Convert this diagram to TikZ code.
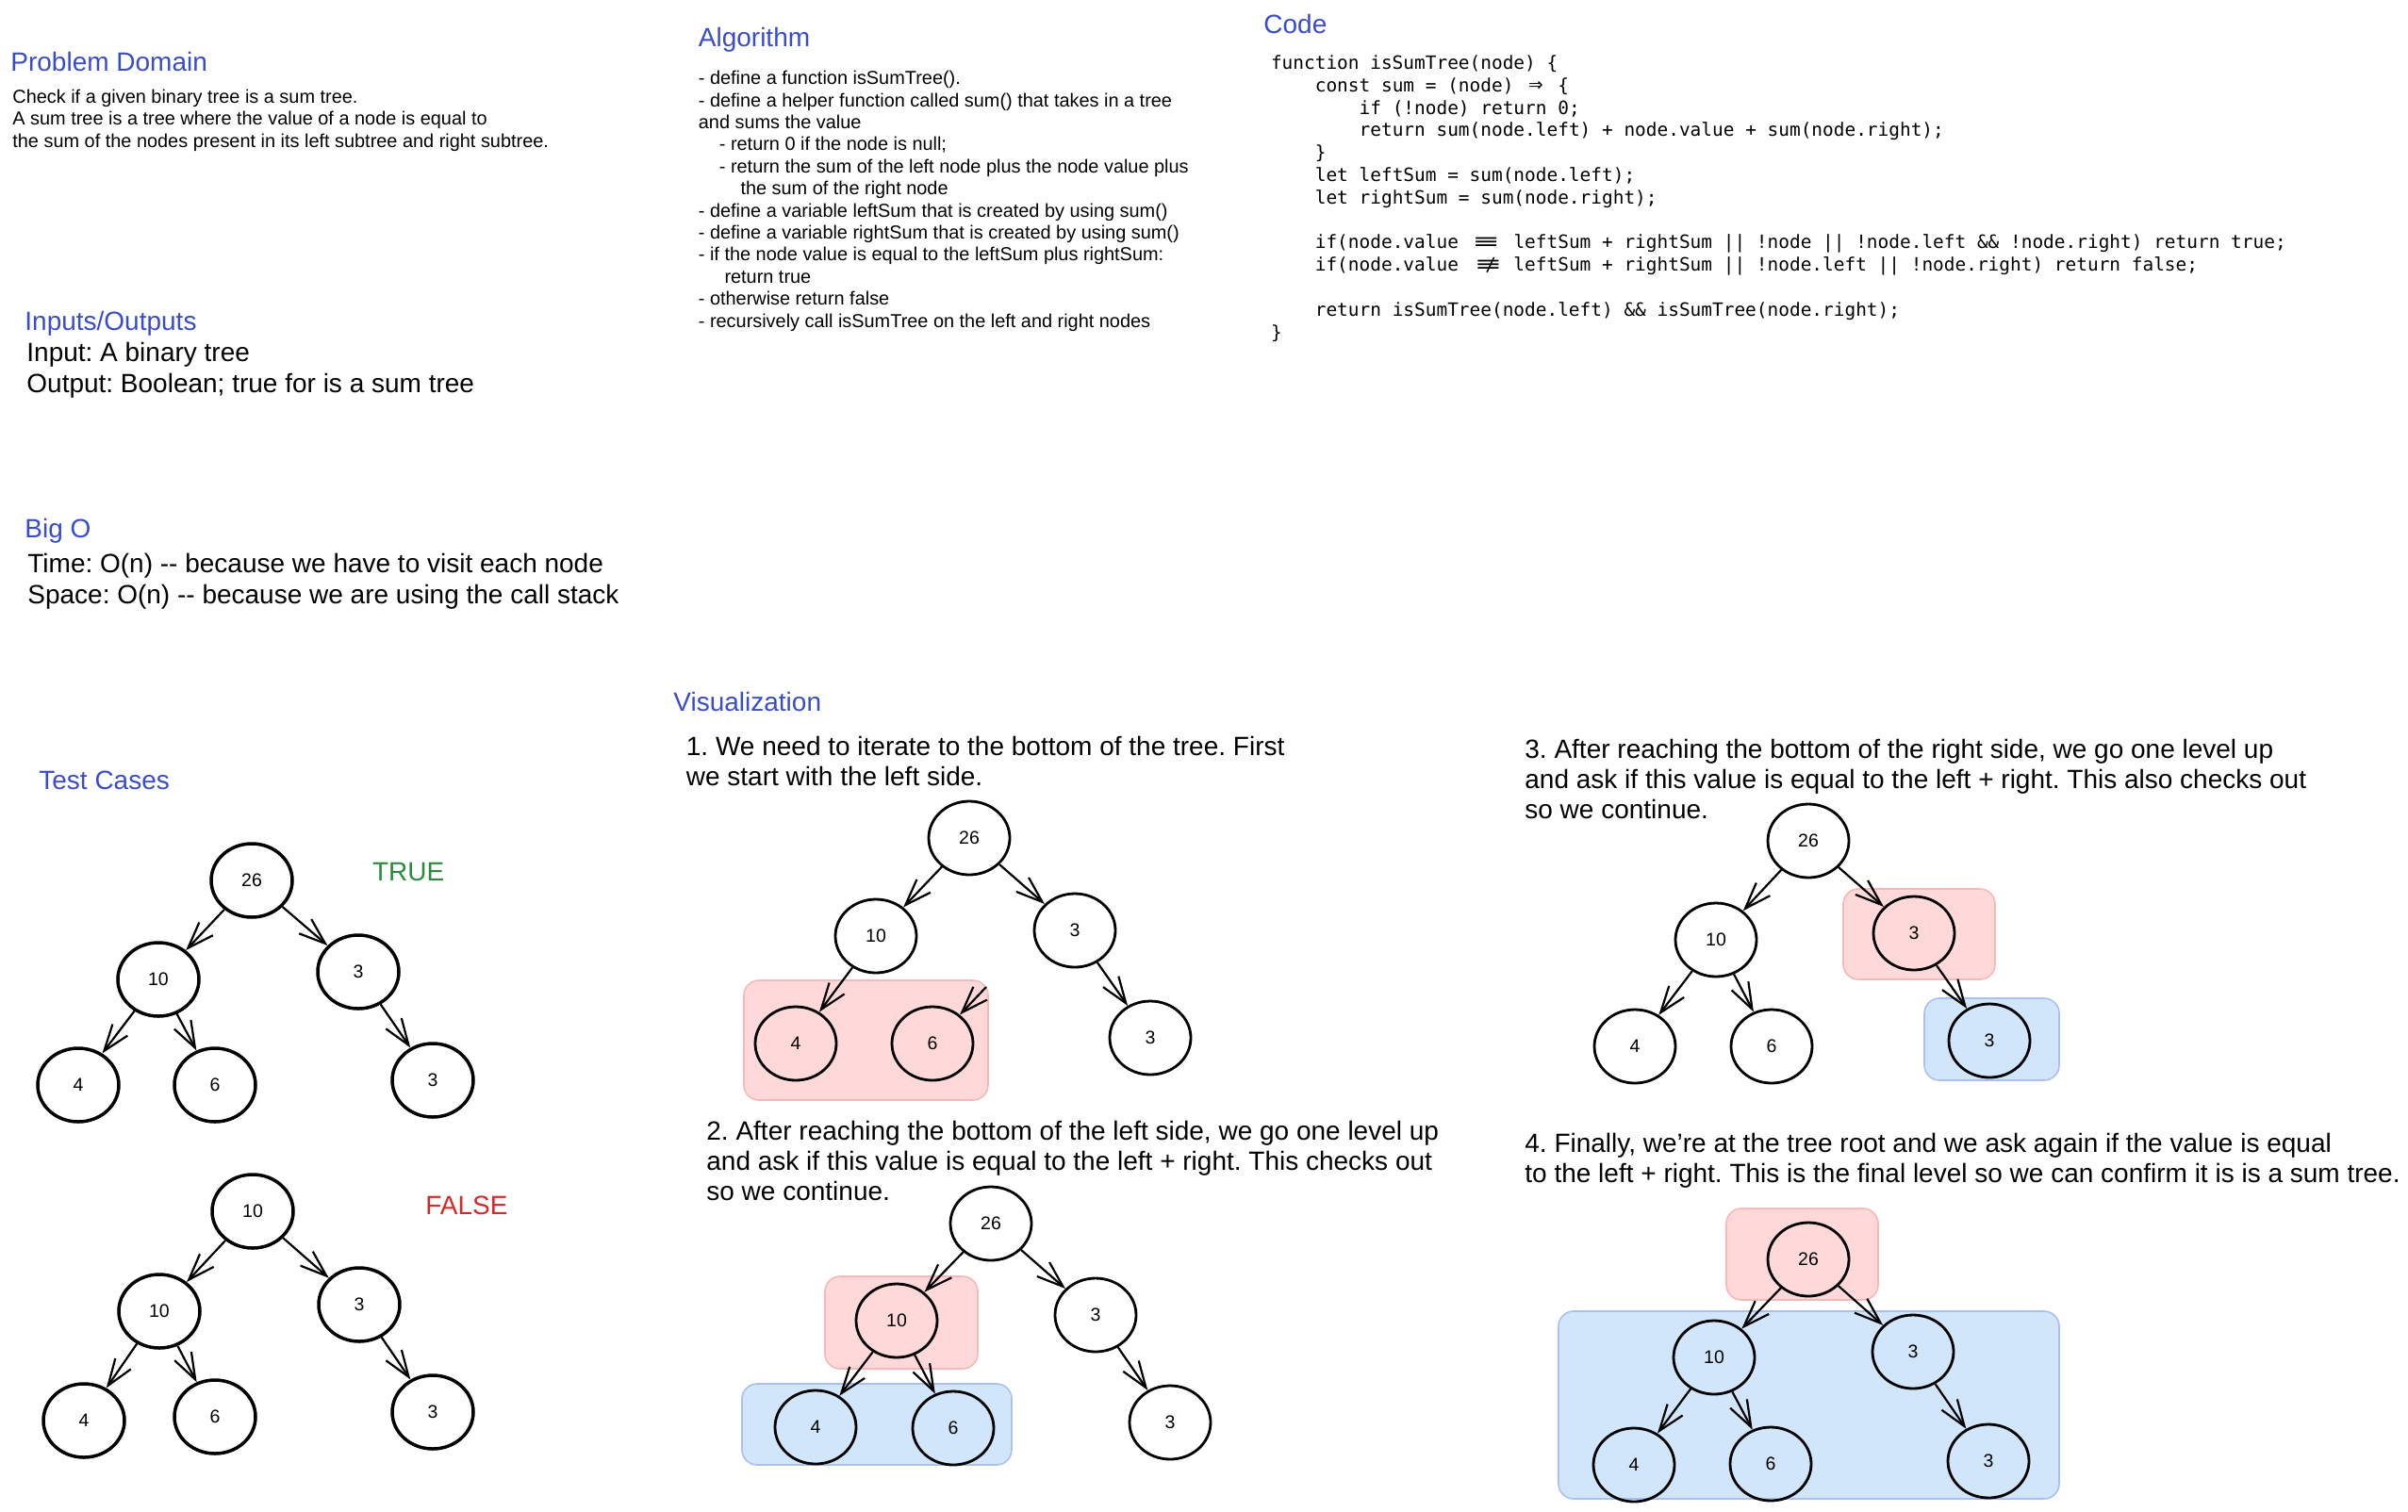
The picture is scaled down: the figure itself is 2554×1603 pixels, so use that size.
\documentclass[tikz,border=0pt]{standalone}
\usepackage{fontspec}
\setmainfont{Liberation Sans}
\setmonofont{DejaVu Sans Mono}
\usepackage{graphicx}
\usetikzlibrary{shapes.geometric,arrows.meta}
\definecolor{headblue}{RGB}{56,76,205}
\definecolor{truegreen}{RGB}{43,138,62}
\definecolor{falsered}{RGB}{214,40,40}
\definecolor{pinkfill}{RGB}{255,217,217}
\definecolor{pinkdraw}{RGB}{246,184,184}
\definecolor{bluefill}{RGB}{209,229,251}
\definecolor{bluedraw}{RGB}{172,192,240}
\newlength\wglen
\newcommand\wg[2]{\settowidth{\wglen}{#1}\makebox[\wglen]{#2}}
\frenchspacing
\begin{document}
\begin{tikzpicture}[x=0.5pt,y=-0.5pt,
  heading/.style={anchor=base west,inner sep=0pt,text=headblue,font=\fontsize{14}{16}\selectfont},
  bigtext/.style={anchor=base west,inner sep=0pt,align=left,font=\frenchspacing\fontsize{14}{15.9}\selectfont},
  smalltext/.style={anchor=base west,inner sep=0pt,align=left,font=\frenchspacing\fontsize{9.95}{11.7}\selectfont},
  codetext/.style={anchor=base west,inner sep=0pt,align=left,font=\frenchspacing\ttfamily\fontsize{9.72}{11.9}\selectfont},
  tnode/.style={ellipse,draw,line width=1.75pt,minimum width=43pt,minimum height=39pt,inner sep=0pt,font=\fontsize{9.75}{10}\selectfont},
  vnode/.style={tnode,line width=1.4pt},
  arr/.style={-{Straight Barb[length=14pt,width=10pt]},line width=1.1pt},
  pinkbox/.style={fill=pinkfill,draw=pinkdraw,line width=0.8pt,rounded corners=8pt},
  bluebox/.style={fill=bluefill,draw=bluedraw,line width=0.8pt,rounded corners=8pt}]
\useasboundingbox (0,0) rectangle (2554,1603);

% multi-line text nodes are placed at the baseline of their LAST line

% ---- Problem domain
\node[heading] (pdh) at (11,75) {Problem Domain};
\node[smalltext] (pdb) at (13,156) {Check if a given binary tree is a sum tree.\\A sum tree is a tree where the value of a node is equal to\\the sum of the nodes present in its left subtree and right subtree.};

% ---- Inputs/Outputs
\node[heading] (ioh) at (26,350) {Inputs/Outputs};
\node[bigtext] (iob) at (28,416) {Input: A binary tree\\[0.35pt]Output: Boolean; true for is a sum tree};

% ---- Big O
\node[heading] (boh) at (26,570) {Big O};
\node[bigtext] (bob) at (29,640) {Time: O(n) -{}- because we have to visit each node\\[0.35pt]Space: O(n) -{}- because we are using the call stack};

% ---- Algorithm
\node[heading] (alh) at (740.5,49) {Algorithm};
\node[smalltext] (alb) at (740.5,347) {- define a function isSumTree().\\
- define a helper function called sum() that takes in a tree\\
and sums the value\\
\hspace*{11pt}- return 0 if the node is null;\\
\hspace*{11pt}- return the sum of the left node plus the node value plus\\
\hspace*{22.3pt}the sum of the right node\\
- define a variable leftSum that is created by using sum()\\
- define a variable rightSum that is created by using sum()\\
- if the node value is equal to the leftSum plus rightSum:\\
\hspace*{13.8pt}return true\\
- otherwise return false\\
- recursively call isSumTree on the left and right nodes};

% ---- Code
\node[heading] (coh) at (1340,35) {Code};
\node[codetext] (cob) at (1347.6,359) {function isSumTree(node) \{\\
\phantom{0000}const sum = (node) \wg{=>}{\scalebox{1.3}{⇒}} \{\\
\phantom{00000000}if (!node) return 0;\\
\phantom{00000000}return sum(node.left) + node.value + sum(node.right);\\
\phantom{0000}\}\\
\phantom{0000}let leftSum = sum(node.left);\\
\phantom{0000}let rightSum = sum(node.right);\\
\mbox{}\\
\phantom{0000}if(node.value \wg{===}{\scalebox{2.2}[1.1]{≡}} leftSum + rightSum || !node || !node.left \&\& !node.right) return true;\\
\phantom{0000}if(node.value \wg{===}{\rlap{\scalebox{2.2}[1.1]{≡}}\hspace{0.5em}/} leftSum + rightSum || !node.left || !node.right) return false;\\
\mbox{}\\
\phantom{0000}return isSumTree(node.left) \&\& isSumTree(node.right);\\
\}};

% ---- Test cases
\node[heading] (tch) at (41,837) {Test Cases};
\node[anchor=base west,inner sep=0pt,text=truegreen,font=\fontsize{14}{16}\selectfont] (tru) at (394.6,934) {TRUE};
\node[anchor=base west,inner sep=0pt,text=falsered,font=\fontsize{14}{16}\selectfont] (fal) at (451,1288) {FALSE};

\node[tnode] (t1a) at (267,934) {26};
\node[tnode] (t1b) at (168,1039) {10};
\node[tnode] (t1c) at (380,1031) {3};
\node[tnode] (t1d) at (83,1151) {4};
\node[tnode] (t1e) at (228,1151) {6};
\node[tnode] (t1f) at (459,1146) {3};
\draw[arr] (t1a) -- (t1b);
\draw[arr] (t1a) -- (t1c);
\draw[arr] (t1b) -- (t1d);
\draw[arr] (t1b) -- (t1e);
\draw[arr] (t1c) -- (t1f);

\node[tnode] (t2a) at (268,1285) {10};
\node[tnode] (t2b) at (169,1391) {10};
\node[tnode] (t2c) at (381,1384) {3};
\node[tnode] (t2d) at (89,1507) {4};
\node[tnode] (t2e) at (228,1503) {6};
\node[tnode] (t2f) at (459,1498) {3};
\draw[arr] (t2a) -- (t2b);
\draw[arr] (t2a) -- (t2c);
\draw[arr] (t2b) -- (t2d);
\draw[arr] (t2b) -- (t2e);
\draw[arr] (t2c) -- (t2f);

% ---- Visualization
\node[heading] (vih) at (714,754) {Visualization};

% step 1
\node[bigtext] (s1t) at (727.5,833) {1. We need to iterate to the bottom of the tree. First\\we start with the left side.};
\draw[pinkbox] (789,1040) rectangle (1048,1167);
\node[vnode] (v1a) at (1028,889) {26};
\node[vnode] (v1b) at (929,993) {10};
\node[vnode] (v1c) at (1140,987) {3};
\node[vnode] (v1d) at (844,1107) {4};
\node[vnode] (v1e) at (989,1107) {6};
\node[vnode] (v1f) at (1220,1101) {3};
\coordinate (v1s) at (1046,1047);
\draw[arr] (v1a) -- (v1b);
\draw[arr] (v1a) -- (v1c);
\draw[arr] (v1b) -- (v1d);
\draw[arr] (v1c) -- (v1f);
\draw[arr] (v1s) -- (v1e);

% step 2
\node[bigtext] (s2t) at (749,1273) {2. After reaching the bottom of the left side, we go one level up\\and ask if this value is equal to the left + right. This checks out\\so we continue.};
\draw[pinkbox] (875,1354) rectangle (1037,1452);
\draw[bluebox] (787,1468) rectangle (1073,1554);
\node[vnode] (v2a) at (1051,1298) {26};
\node[vnode] (v2b) at (951,1401) {10};
\node[vnode] (v2c) at (1162,1395) {3};
\node[vnode] (v2d) at (865,1514) {4};
\node[vnode] (v2e) at (1011,1515) {6};
\node[vnode] (v2f) at (1241,1509) {3};
\draw[arr] (v2a) -- (v2b);
\draw[arr] (v2a) -- (v2c);
\draw[arr] (v2b) -- (v2d);
\draw[arr] (v2b) -- (v2e);
\draw[arr] (v2c) -- (v2f);

% step 3
\node[bigtext] (s3t) at (1617,868) {3. After reaching the bottom of the right side, we go one level up\\and ask if this value is equal to the left + right. This also checks out\\so we continue.};
\draw[pinkbox] (1955,943) rectangle (2116,1039);
\draw[bluebox] (2041,1059) rectangle (2184,1146);
\node[vnode] (v3a) at (1918,892) {26};
\node[vnode] (v3b) at (1820,997) {10};
\node[vnode] (v3c) at (2030,990) {3};
\node[vnode] (v3d) at (1734,1110) {4};
\node[vnode] (v3e) at (1879,1110) {6};
\node[vnode] (v3f) at (2110,1104) {3};
\draw[arr] (v3a) -- (v3b);
\draw[arr] (v3a) -- (v3c);
\draw[arr] (v3b) -- (v3d);
\draw[arr] (v3b) -- (v3e);
\draw[arr] (v3c) -- (v3f);

% step 4
\node[bigtext] (s4t) at (1617,1254) {4. Finally, we're at the tree root and we ask again if the value is equal\\to the left + right. This is the final level so we can confirm it is is a sum tree.};
\draw[pinkbox] (1831,1282) rectangle (1992,1379);
\draw[bluebox] (1653,1391) rectangle (2184,1590);
\node[vnode] (v4a) at (1918,1336) {26};
\node[vnode] (v4b) at (1818,1440) {10};
\node[vnode] (v4c) at (2029,1434) {3};
\node[vnode] (v4d) at (1733,1554) {4};
\node[vnode] (v4e) at (1878,1553) {6};
\node[vnode] (v4f) at (2109,1550) {3};
\draw[arr] (v4a) -- (v4b);
\draw[arr] (v4a) -- (v4c);
\draw[arr] (v4b) -- (v4d);
\draw[arr] (v4b) -- (v4e);
\draw[arr] (v4c) -- (v4f);
\end{tikzpicture}
\end{document}
